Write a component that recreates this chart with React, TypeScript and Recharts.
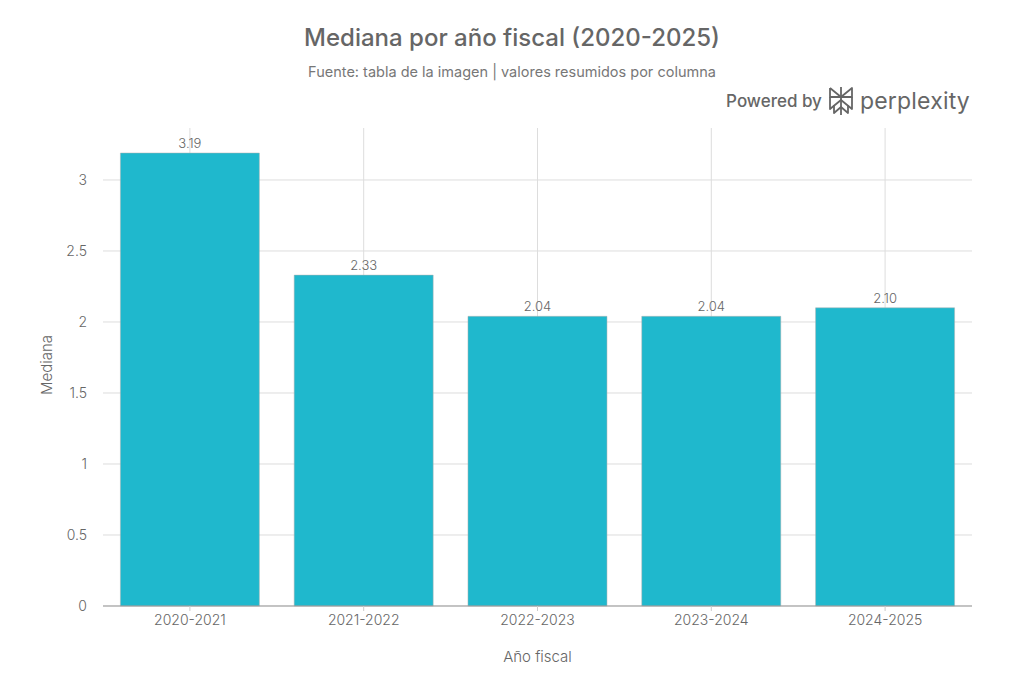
import React from 'react';
import { BarChart, Bar, XAxis, YAxis, CartesianGrid, LabelList } from 'recharts';

const years = ['2020-2021', '2021-2022', '2022-2023', '2023-2024', '2024-2025'];
const medians = [3.19, 2.33, 2.04, 2.04, 2.1];
const yTicks = [0, 0.5, 1, 1.5, 2, 2.5, 3];
const yMax = 3.366;

const chartData = years.map((year, i) => ({ year, median: medians[i] }));

const FONT = 'Inter, "Open Sans", sans-serif';
const TEXT = '#666666';

// grid only at tick values (no outer box)
const hLines = ({ offset }: any) => yTicks.map((t) => offset.top + offset.height * (1 - t / yMax));
const vLines = ({ offset }: any) =>
  years.map((_, i) => offset.left + (offset.width / years.length) * (i + 0.5));

const PerplexityMark = () => (
  <svg width="26" height="30" viewBox="0 0 26 30" style={{ margin: '0 6px' }}>
    <g fill="none" stroke="#666" strokeWidth="1.8" strokeLinejoin="round">
      <path d="M13 1 V29" />
      <path d="M2 2 L13 11 L24 2 V11 H2 V2" />
      <path d="M2 11 V23 L13 14 L24 23 V11" />
      <path d="M6 19 V27 L13 21 L20 27 V19" />
    </g>
  </svg>
);

export default function App() {
  return (
    <div style={{ position: 'absolute', left: 0, top: 0, width: 1024, height: 683, background: '#fff', fontFamily: FONT }}>
      <div style={{ position: 'absolute', top: 23, width: 1024, textAlign: 'center', fontSize: 24, fontWeight: 500, color: '#666' }}>
        Mediana por año fiscal (2020-2025)
      </div>
      <div style={{ position: 'absolute', top: 63, width: 1024, textAlign: 'center', fontSize: 14.5, color: '#777' }}>
        Fuente: tabla de la imagen | valores resumidos por columna
      </div>
      <div style={{ position: 'absolute', top: 86, right: 54, display: 'flex', alignItems: 'center', color: '#666' }}>
        <span style={{ fontSize: 17, fontWeight: 500 }}>Powered by</span>
        <PerplexityMark />
        <span style={{ fontSize: 23, fontWeight: 400, letterSpacing: 0.2 }}>perplexity</span>
      </div>
      <BarChart
        width={1024}
        height={683}
        data={chartData}
        margin={{ top: 128, right: 52, bottom: 47, left: 43 }}
        barCategoryGap="10%"
      >
        <CartesianGrid
          stroke="#dddddd"
          strokeWidth={1}
          horizontalCoordinatesGenerator={hLines}
          verticalCoordinatesGenerator={vLines}
        />
        <XAxis
          dataKey="year"
          height={30}
          stroke="#999"
          tick={{ fill: TEXT, fontSize: 14, fontFamily: FONT, fontWeight: 300 }}
          tickSize={5}
          tickMargin={4}
          tickLine={{ stroke: '#ccc' }}
          axisLine={{ stroke: '#999' }}
          label={{ value: 'Año fiscal', position: 'insideBottom', offset: -26, fill: TEXT, fontSize: 15, fontFamily: FONT, fontWeight: 300 }}
        />
        <YAxis
          width={60}
          domain={[0, yMax]}
          ticks={yTicks}
          tickFormatter={(v: number) => String(v)}
          axisLine={false}
          tickLine={false}
          tickMargin={10}
          tick={{ fill: TEXT, fontSize: 14, fontFamily: FONT, fontWeight: 300 }}
          label={{ value: 'Mediana', angle: -90, position: 'insideLeft', offset: 4, dy: 28, fill: TEXT, fontSize: 15, fontFamily: FONT, fontWeight: 300 }}
        />
        <Bar dataKey="median" fill="#1FB8CD" stroke="#b0b0b0" strokeWidth={0.5} isAnimationActive={false}>
          <LabelList
            dataKey="median"
            position="top"
            offset={5}
            formatter={(v: any) => Number(v).toFixed(2)}
            style={{ fill: TEXT, fontSize: 13, fontFamily: FONT, fontWeight: 300 }}
          />
        </Bar>
      </BarChart>
    </div>
  );
}
